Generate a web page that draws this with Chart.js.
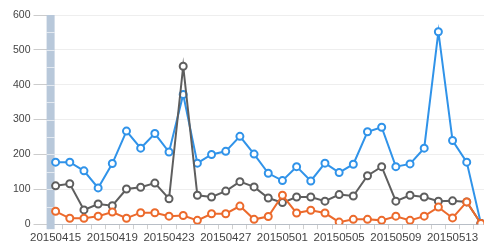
<!DOCTYPE html>
<html>
<head>
<meta charset="utf-8">
<script src="https://cdn.jsdelivr.net/npm/chart.js@4"></script>
<style>
  html, body { margin: 0; padding: 0; background: #fff; overflow: hidden; }
  #wrap { width: 494px; height: 247px; }
</style>
</head>
<body>
<div id="wrap"><canvas id="chart"></canvas></div>
<script>
// --- DATA ---
const dates = [
    '20150415', '20150416', '20150417', '20150418', '20150419', '20150420', '20150421', '20150422',
    '20150423', '20150424', '20150425', '20150426', '20150427', '20150428', '20150429', '20150430',
    '20150501', '20150502', '20150503', '20150504', '20150505', '20150506', '20150507', '20150508',
    '20150509', '20150510', '20150511', '20150512', '20150513', '20150514', '20150515'
];
const blueValues = [178, 178, 153, 104, 174, 267, 218, 260, 207, 372, 175, 200, 209, 252, 201, 146,
    125, 165, 124, 175, 148, 172, 265, 278, 165, 173, 218, 552, 240, 178, 2];
const grayValues = [110, 116, 41, 58, 53, 101, 106, 118, 73, 453, 83, 78, 95, 122, 107, 75,
    62, 78, 78, 66, 85, 81, 139, 165, 66, 83, 78, 66, 67, 64, 2];
const orangeValues = [37, 17, 17, 23, 35, 17, 33, 33, 23, 25, 11, 30, 30, 52, 14, 22,
    83, 32, 40, 32, 6, 14, 14, 11, 23, 11, 23, 49, 18, 64, 2];
const yTicks = [0, 100, 200, 300, 400, 500, 600];

// light blue strip left of the first point
const stripPlugin = {
    id: 'strip',
    beforeDatasetsDraw(chart) {
        const ctx = chart.ctx;
        const x = chart.scales.x;
        const y = chart.scales.y;
        const left = x.getPixelForValue(0) - 9;
        const top = y.getPixelForValue(600);
        const bottom = y.getPixelForValue(0) + 5;
        ctx.save();
        ctx.fillStyle = '#b8c8da';
        ctx.fillRect(left, top, 8, bottom - top);
        ctx.strokeStyle = 'rgba(255,255,255,0.6)';
        ctx.lineWidth = 1;
        for (let v = 50; v < 600; v += 50) {
            const py = Math.round(y.getPixelForValue(v)) + 0.5;
            ctx.beginPath();
            ctx.moveTo(left, py);
            ctx.lineTo(left + 8, py);
            ctx.stroke();
        }
        ctx.restore();
    }
};

function lineSet(label, data, color) {
    return {
        label: label,
        data: data,
        borderColor: color,
        borderWidth: 2,
        pointRadius: 3.5,
        pointBorderWidth: 2,
        pointBackgroundColor: '#fff',
        pointBorderColor: color,
        tension: 0
    };
}

const ctx = document.getElementById('chart').getContext('2d');
new Chart(ctx, {
    type: 'line',
    data: {
        labels: dates,
        datasets: [
            lineSet('orange', orangeValues, '#ec6a2c'),
            lineSet('gray', grayValues, '#5e5e5e'),
            lineSet('blue', blueValues, '#3093e9')
        ]
    },
    plugins: [stripPlugin],
    options: {
        responsive: true,
        maintainAspectRatio: false,
        animation: false,
        layout: { padding: { top: 15, right: 3, left: 10, bottom: 0 } },
        plugins: {
            legend: { display: false },
            tooltip: { enabled: false }
        },
        scales: {
            x: {
                offset: true,
                grid: {
                    display: true,
                    drawOnChartArea: false,
                    offset: true,
                    tickLength: 5,
                    tickColor: '#d0d0d0'
                },
                border: { color: '#b8bec6' },
                ticks: {
                    autoSkip: false,
                    maxRotation: 0,
                    padding: 2,
                    color: '#444',
                    font: { family: 'Liberation Sans', size: 11.5 },
                    callback: function (val, i) { return i % 4 === 0 ? dates[i] : ''; }
                }
            },
            y: {
                min: 0,
                max: 600,
                afterBuildTicks: function (axis) {
                    axis.ticks = yTicks.map(v => ({ value: v }));
                },
                grid: {
                    color: '#eeeeee',
                    tickLength: 15,
                    tickColor: '#cccccc'
                },
                border: { display: false },
                ticks: {
                    padding: 3,
                    color: '#444',
                    font: { family: 'Liberation Sans', size: 10.5 }
                }
            }
        }
    }
});
</script>
</body>
</html>
